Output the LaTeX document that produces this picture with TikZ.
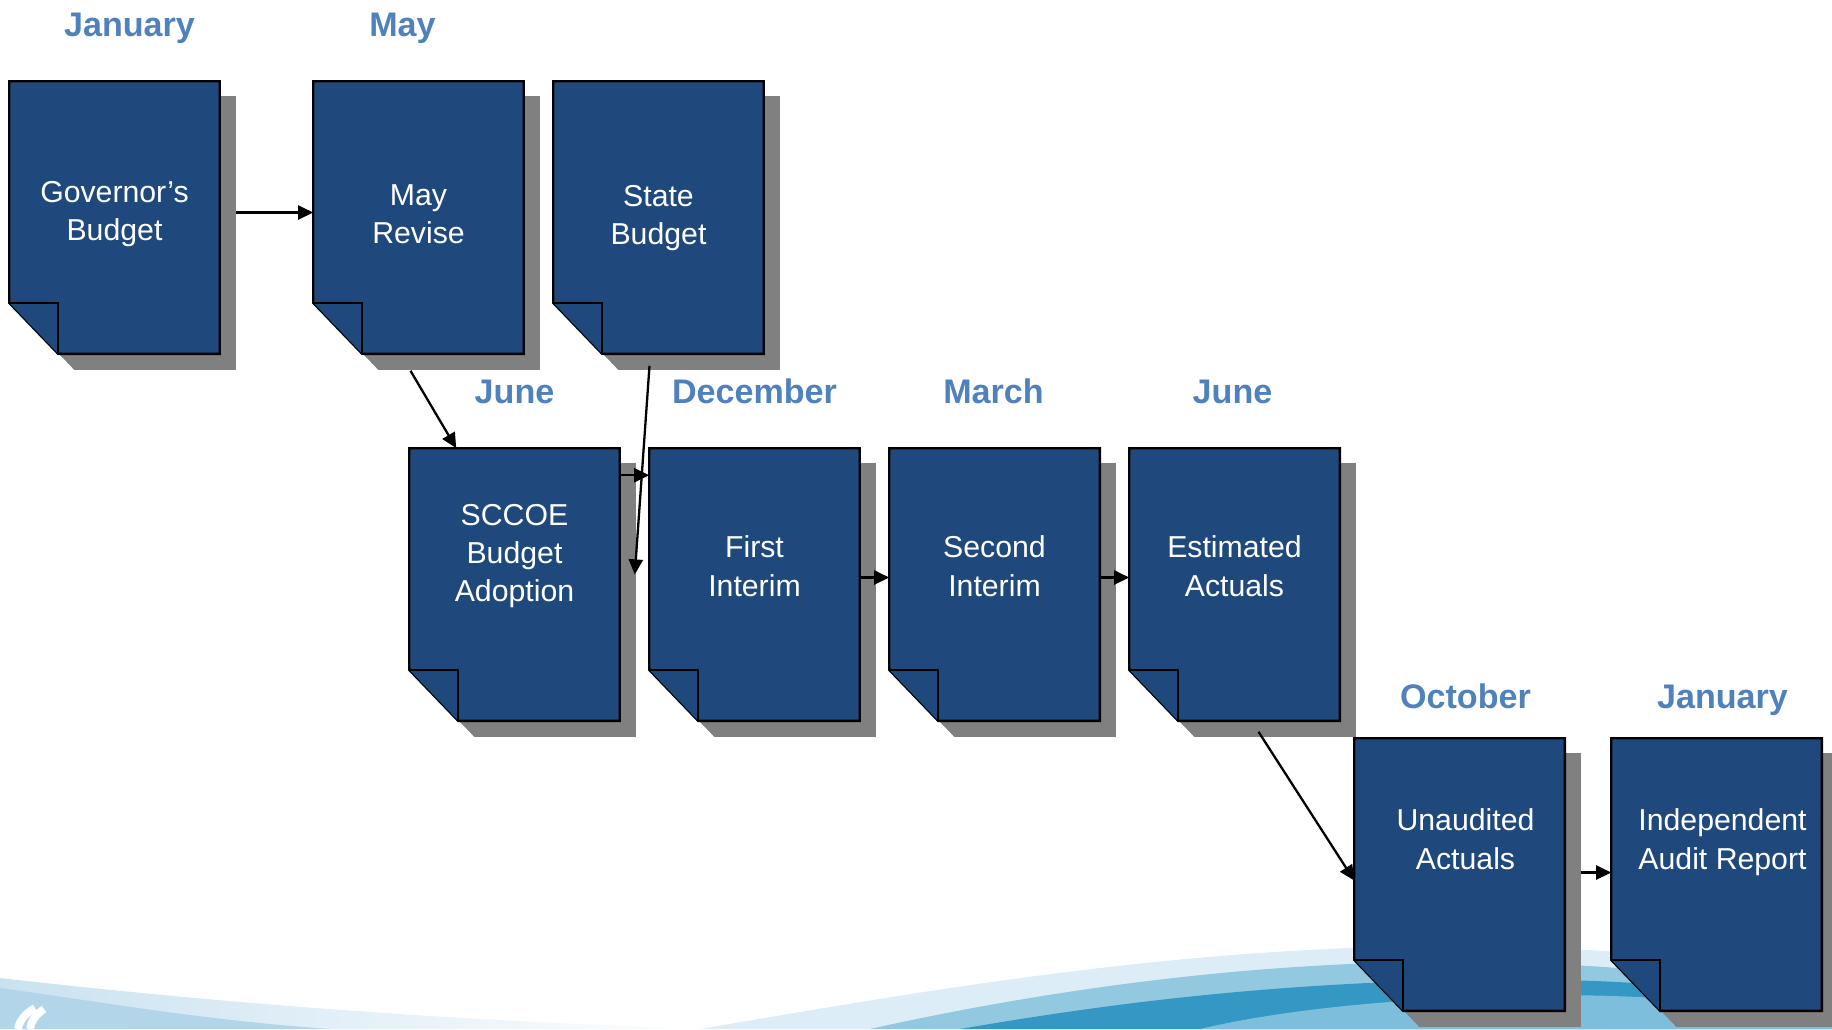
\documentclass[tikz,border=0pt]{standalone}
\usepackage{fontspec}
\setmainfont{Liberation Sans}
\usetikzlibrary{calc,arrows.meta}

\definecolor{sheetblue}{HTML}{1F497D}
\definecolor{sheetgray}{HTML}{808080}
\definecolor{monthblue}{HTML}{4F81BD}
\definecolor{wavepale}{HTML}{DCEDF7}
\definecolor{wavemid}{HTML}{93C8E1}
\definecolor{wavedark}{HTML}{3598C4}
\definecolor{wavelow}{HTML}{7DBEDC}
\definecolor{waveleft}{HTML}{B3D5EA}

% one budget document: name, centre, text, text position from the top
\newcommand{\sheet}[4]{%
  \node[sheet] (#1) at (#2) {};
  \fill[sheetgray] ($(#1.north west)+(16,15)$) -- ($(#1.north east)+(16,15)$)
    -- ($(#1.south east)+(16,16)$) -- ($(#1.south west)+(65,16)$)
    -- ($(#1.south west)+(16,-35)$) -- cycle;
  \filldraw[sheetline] (#1.north west) -- (#1.north east) -- (#1.south east)
    -- ($(#1.south west)+(49,0)$) -- ($(#1.south west)+(0,-51)$) -- cycle;
  \draw[sheetline] ($(#1.south west)+(0,-51)$) -- ++(49,0) -- ++(0,51);
  \node[sheettext] (#1-text) at ($(#1.north)+(#4)$) {#3};
}

\begin{document}
\begin{tikzpicture}[x=0.01cm,y=-0.01cm,
    sheet/.style={minimum width=2.09cm, minimum height=2.71cm, inner sep=0pt},
    sheetline/.style={fill=sheetblue, draw=black, line width=0.7pt, line join=miter},
    sheettext/.style={text=white, align=center, inner sep=0pt,
      font=\fontsize{8.6}{10.9}\selectfont},
    month/.style={text=monthblue, anchor=base, inner sep=0pt,
      font=\fontsize{9.7}{12}\selectfont\bfseries},
    flow/.style={-{Triangle[length=4.3pt,width=4pt]}, line width=0.65pt}]
  \clip (0,0) rectangle (1832,1029);

  % background waves
  \shade[left color=waveleft!70!white, right color=white] (0,978) .. controls (150,995) and (400,1020) .. (720,1029) -- (0,1029) -- cycle;
  \fill[waveleft] (0,988) .. controls (90,1000) and (200,1020) .. (330,1029) -- (0,1029) -- cycle;
  \draw[white, line width=2.2pt] (35,1008) .. controls (24,1014) and (19,1022) .. (18,1029);
  \draw[white, line width=2.2pt] (44,1009) .. controls (35,1015) and (31,1022) .. (30,1029);
  \fill[wavepale] (700,1029) .. controls (900,995) and (1150,950) .. (1420,946)
    .. controls (1600,944) and (1750,962) .. (1832,982) -- (1832,1029) -- cycle;
  \fill[wavemid] (870,1029) .. controls (1000,1000) and (1200,965) .. (1420,962)
    .. controls (1600,960) and (1750,978) .. (1832,998) -- (1832,1029) -- cycle;
  \fill[wavedark] (960,1029) .. controls (1100,1005) and (1250,985) .. (1450,980)
    .. controls (1620,976) and (1750,990) .. (1832,1008) -- (1832,1029) -- cycle;
  \fill[wavelow] (1200,1029) .. controls (1280,1010) and (1400,997) .. (1550,995)
    .. controls (1680,995) and (1780,1008) .. (1832,1018) -- (1832,1029) -- cycle;

  % documents
  \sheet{gov}{114.5,217.5}{Governor's\\Budget}{0,133}
  \sheet{mayrev}{418.5,217.5}{May\\Revise}{0,133}
  \sheet{state}{658.5,217.5}{State\\Budget}{0,137}
  \sheet{sccoe}{514.5,584.5}{SCCOE\\Budget\\Adoption}{0,108}
  \sheet{first}{754.5,584.5}{First\\Interim}{0,118}
  \sheet{second}{994.5,584.5}{Second\\Interim}{0,118}
  \sheet{estim}{1234.5,584.5}{Estimated\\Actuals}{0,118}
  \sheet{unaud}{1459.5,874.5}{Unaudited\\Actuals}{6,101}
  \sheet{audit}{1716.5,874.5}{Independent\\Audit Report}{6,104}

  % months
  \node[month] (m-jan) at ($(gov.north)+(15,-45)$) {January};
  \node[month] (m-may) at ($(mayrev.north)+(-16,-45)$) {May};
  \node[month] (m-jun) at ($(sccoe.north)+(0,-45)$) {June};
  \node[month] (m-dec) at ($(first.north)+(0,-45)$) {December};
  \node[month] (m-mar) at ($(second.north)+(-1,-45)$) {March};
  \node[month] (m-jun2) at ($(estim.north)+(-2,-45)$) {June};
  \node[month] (m-oct) at ($(unaud.north)+(6,-30)$) {October};
  \node[month] (m-jan2) at ($(audit.north)+(6,-30)$) {January};

  % connectors
  \draw[flow] ($(gov.east)+(16,-5)$) -- ($(mayrev.west)+(0,-5)$);
  \draw[flow] ($(mayrev.south)+(-8,17)$) -- ($(sccoe.north west)+(47,0)$);
  \draw[flow] ($(state.south)+(-9,12)$) -- ($(sccoe.east)+(15,-10)$);
  \draw[flow] ($(sccoe.north east)+(0,27)$) -- ($(first.north west)+(0,27)$);
  \draw[flow] ($(first.east)+(0,-7)$) -- ($(second.west)+(0,-7)$);
  \draw[flow] ($(second.east)+(0,-7)$) -- ($(estim.west)+(0,-7)$);
  \draw[flow] ($(estim.south)+(24,11)$) -- ($(unaud.west)+(0,6)$);
  \draw[flow] ($(unaud.east)+(16,-2)$) -- ($(audit.west)+(0,-2)$);
\end{tikzpicture}
\end{document}
